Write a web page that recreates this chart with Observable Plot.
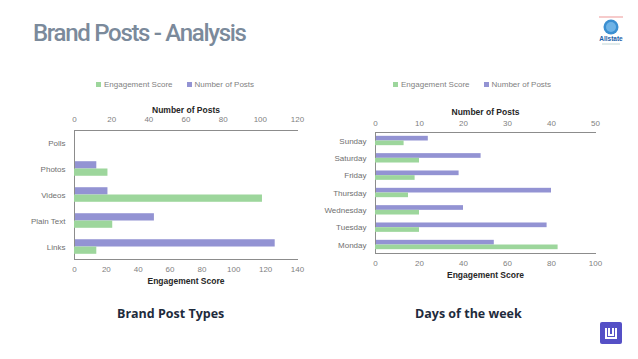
<!DOCTYPE html>
<html><head><meta charset="utf-8">
<script src="https://cdn.jsdelivr.net/npm/d3@7"></script>
<script src="https://cdn.jsdelivr.net/npm/@observablehq/plot@0.6"></script>
<style>
body{margin:0;background:#fff;}
#root{position:relative;width:638px;height:359px;overflow:hidden;font-family:"Liberation Sans",Arial,sans-serif;}
.abs{position:absolute;}
.title{left:33px;top:19px;font-family:Roboto,sans-serif;font-weight:500;font-size:24px;letter-spacing:-1.3px;color:#7b8a9b;white-space:nowrap;}
.sub{font-family:"Open Sans",sans-serif;font-weight:700;font-size:12.5px;color:#1e2b3c;white-space:nowrap;top:305px;}
.legend{font-size:8px;color:#7f7f7f;top:80px;white-space:nowrap;display:flex;align-items:center;}
.legend span.sw{display:inline-block;width:5px;height:5px;margin-right:3px;}
.legend span.item{display:inline-flex;align-items:center;margin-right:14px;}
</style></head>
<body><div id="root"></div>
<script>
// ---- data ----
const postTypes = ["Polls","Photos","Videos","Plain Text","Links"];
const postTypePosts = [0,12,18,43,108];
const postTypeEngagement = [0,21,118,24,14];
const days = ["Sunday","Saturday","Friday","Thursday","Wednesday","Tuesday","Monday"];
const dayPosts = [12,24,19,40,20,39,27];
const dayEngagement = [13,20,18,15,20,20,83];
const leftPostTicks = [0,20,40,60,80,100,120];
const leftEngTicks = [0,20,40,60,80,100,120,140];
const rightPostTicks = [0,10,20,30,40,50];
const rightEngTicks = [0,20,40,60,80,100];
const seriesNames = ["Engagement Score","Number of Posts"];
const colors = {"Engagement Score":"#9dd69c","Number of Posts":"#9393d3"};

const root = document.getElementById("root");
function add(html, cls, style){const d=document.createElement("div");d.className="abs "+(cls||"");d.innerHTML=html;Object.assign(d.style,style||{});root.appendChild(d);return d;}

add("Brand Posts - Analysis","title");

function legend(left){
  add(seriesNames.map(s=>`<span class="item"><span class="sw" style="background:${colors[s]}"></span>${s}</span>`).join(""),"legend",{left:left+"px"});
}
legend(96); legend(393);

function panel(opts){
  const {left,width,height,top,mL,mR,mT,mB,cats,posts,eng,postDomain,engDomain,postTicks,engTicks,pi,po,padTop,padBottom}=opts;
  const pd = cats.map((c,i)=>({cat:c,v:posts[i]}));
  const ed = cats.map((c,i)=>({cat:c,v:eng[i]}));
  const common = {width,height,marginLeft:mL,marginRight:mR,marginTop:mT,marginBottom:mB,
    style:{fontFamily:"'Liberation Sans',Arial,sans-serif",fontSize:"8px",color:"#7f7f7f",background:"transparent",overflow:"visible"}};
  const yScale = {domain:cats,paddingInner:pi,paddingOuter:po,round:false,axis:null};
  const p1 = Plot.plot({...common,
    x:{domain:postDomain,axis:null},
    y:yScale,
    marks:[
      Plot.barX(pd,{x:"v",y:"cat",fill:colors["Number of Posts"]}),
      Plot.axisX({anchor:"top",ticks:postTicks,tickSize:0,tickPadding:padTop,fill:"#7f7f7f",label:"Number of Posts",labelAnchor:"center",labelArrow:"none",labelOffset:24}),
      Plot.axisY({tickSize:0,tickPadding:9,fill:"#6f6f6f",label:null}),
      Plot.frame({anchor:"top",stroke:"#8c8c8c"}),
      Plot.frame({anchor:"left",stroke:"#8c8c8c"})
    ]});
  const p2 = Plot.plot({...common,
    x:{domain:engDomain,axis:null},
    y:yScale,
    marks:[
      Plot.barX(ed,{x:"v",y:"cat",fill:colors["Engagement Score"]}),
      Plot.axisX({anchor:"bottom",ticks:engTicks,tickSize:0,tickPadding:padBottom,fill:"#7f7f7f",label:"Engagement Score",labelAnchor:"center",labelArrow:"none",labelOffset:24}),
      Plot.frame({anchor:"bottom",stroke:"#8c8c8c"})
    ]});
  // split each band: posts in upper half, engagement in lower half
  for (const [svg,half] of [[p1,"top"],[p2,"bottom"]]) {
    d3.select(svg).selectAll("g[aria-label='bar'] rect").each(function(){
      const r=d3.select(this); const y=+r.attr("y"), h=+r.attr("height");
      if(half==="top"){r.attr("height",h/2);} else {r.attr("y",y+h/2).attr("height",h/2);}
    });
    d3.select(svg).selectAll("g[aria-label='x-axis label']").attr("font-weight","bold").attr("fill","#262626").style("font-size","8.5px");
  }
  const d1=add("","",{left:left+"px",top:top+"px"}); d1.appendChild(p1);
  const d2=add("","",{left:left+"px",top:top+"px"}); d2.appendChild(p2);
}

panel({left:0,top:95,width:320,height:200,mL:74,mR:23,mT:35,mB:36,cats:postTypes,posts:postTypePosts,eng:postTypeEngagement,
  postDomain:[0,120],engDomain:[0,140],postTicks:leftPostTicks,engTicks:leftEngTicks,pi:0.44,po:0.2,padTop:9,padBottom:7});
panel({left:320,top:95,width:318,height:200,mL:55,mR:43,mT:37,mB:42,cats:days,posts:dayPosts,eng:dayEngagement,
  postDomain:[0,50],engDomain:[0,100],postTicks:rightPostTicks,engTicks:rightEngTicks,pi:0.46,po:0.22,padTop:7,padBottom:7});

add("Brand Post Types","sub",{left:"117px"});
add("Days of the week","sub",{left:"415px"});

// logos
add(`<svg width="30" height="34"><line x1="3" y1="2" x2="27" y2="2" stroke="#e05050" stroke-width="0.6"/>
<circle cx="15" cy="12" r="7.5" fill="#3b8fd1"/><circle cx="15" cy="12" r="5" fill="#6fb3e6"/>
<text x="15" y="26" text-anchor="middle" font-size="6.5" font-weight="bold" fill="#1c5ea8" font-family="Liberation Sans">Allstate</text>
<line x1="6" y1="29" x2="24" y2="29" stroke="#9bb" stroke-width="0.6"/></svg>`,"",{left:"596px",top:"15px"});
add(`<svg width="22" height="22"><rect x="0" y="0" width="22" height="22" rx="2" fill="#5550c6"/>
<path d="M6 6 V16 H16 V6 M9 6 V13 H13 V6" fill="none" stroke="#fff" stroke-width="2"/></svg>`,"",{left:"600px",top:"322px"});
</script>
</body></html>
